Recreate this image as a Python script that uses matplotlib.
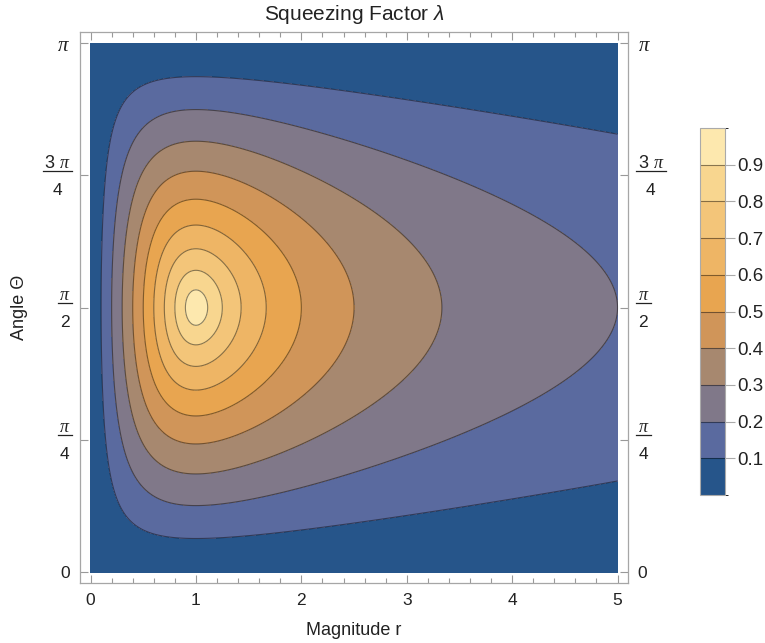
import numpy as np
import matplotlib
matplotlib.use("Agg")
import matplotlib.pyplot as plt
from matplotlib.colors import ListedColormap, BoundaryNorm
from matplotlib.lines import Line2D

plt.rcParams['font.family'] = ['Liberation Sans', 'DejaVu Sans']
plt.rcParams['mathtext.fontset'] = 'custom'
plt.rcParams['mathtext.rm'] = 'Liberation Sans'
plt.rcParams['mathtext.it'] = 'Liberation Serif:italic'
plt.rcParams['mathtext.sf'] = 'Liberation Sans:italic'

# contour levels and band colours (Mathematica default contour scheme)
levels = [0.0, 0.1, 0.2, 0.3, 0.4, 0.5, 0.6, 0.7, 0.8, 0.9, 1.0]
band_colors = ['#26558a', '#5a6a9f', '#807889', '#a7886f', '#d09559',
               '#e8a550', '#eeb565', '#f3c579', '#f8d68f', '#fde8ae']
line_levels = levels[1:-1]

x_ticks = [0, 1, 2, 3, 4, 5]
y_ticks = [0, np.pi / 4, np.pi / 2, 3 * np.pi / 4, np.pi]
y_labels = ['0', '', '', '', r'$\pi$']
# stacked fraction labels drawn by hand (Mathematica style)
frac_ticks = [np.pi / 4, np.pi / 2, 3 * np.pi / 4]
frac_num = [r'$\pi$', r'$\pi$', r'3 $\pi$']
frac_den = ['4', '2', '4']
cbar_ticks = [0.1, 0.2, 0.3, 0.4, 0.5, 0.6, 0.7, 0.8, 0.9]

# squeezing factor: ratio of singular values of the map with columns (1,0), r(cos t, sin t)
r = np.linspace(0, 5, 601)
theta = np.linspace(0, np.pi, 601)
R, T = np.meshgrid(r, theta)
X = R * np.cos(T)
Y = R * np.sin(T)
p = np.sqrt((1 + Y) ** 2 + X ** 2)
q = np.sqrt((1 - Y) ** 2 + X ** 2)
lam = (p - q) / (p + q)

cmap = ListedColormap(band_colors)
norm = BoundaryNorm(levels, cmap.N)

W, H = 765, 643
fig = plt.figure(figsize=(W / 100, H / 100), dpi=100)
ax = fig.add_axes([0.1046, 0.0933, 0.7164, 0.8567])
cf = ax.contourf(R, T, lam, levels=levels, cmap=cmap, norm=norm)
cs = ax.contour(R, T, lam, levels=line_levels, colors='#000000',
                alpha=0.45, linewidths=0.8)

ax.set_xlim(-0.1, 5.1)
ax.set_ylim(-0.065, np.pi + 0.065)
ax.set_xticks(x_ticks)
ax.set_xticks(np.arange(0, 5.01, 0.2), minor=True)
ax.set_yticks(y_ticks)
ax.set_yticklabels(y_labels)
ax.tick_params(which='both', direction='in', color='#999999', top=True, right=True,
               labelright=True, labelsize=12.5, labelcolor='#222222')
ax.tick_params(which='major', length=6, width=0.8, pad=7)
ax.tick_params(which='minor', length=3.5, width=0.8)
top_tick = ax.yaxis.get_major_ticks()[-1]
top_tick.label1.set_fontsize(15)
top_tick.label2.set_fontsize(15)
for s in ax.spines.values():
    s.set_color('#a6a6a6')
    s.set_linewidth(0.9)

ax.set_title(r'Squeezing Factor $\mathsf{\lambda}$', fontsize=15, pad=9, color='#222222')
ax.set_xlabel('Magnitude r', fontsize=13, color='#222222', va='center')
ax.xaxis.set_label_coords(0.5, -0.087)
ax.set_ylabel('Angle Θ', fontsize=13, color='#222222', va='center')
ax.yaxis.set_label_coords(-0.110, 0.5)

# hand-drawn fraction tick labels on both sides
renderer = fig.canvas.get_renderer()
x_left, x_right = ax.bbox.x0, ax.bbox.x1
for yv, num, den in zip(frac_ticks, frac_num, frac_den):
    ypix = ax.transData.transform((0, yv))[1]
    for side in ('left', 'right'):
        tn = fig.text(0, 0, num, fontsize=13, color='#222222', ha='center', va='baseline')
        td = fig.text(0, 0, den, fontsize=12.5, color='#222222', ha='center', va='baseline')
        wn = tn.get_window_extent(renderer).width
        wd = td.get_window_extent(renderer).width
        bw = max(wn, wd) + 3
        if side == 'left':
            x1 = x_left - 8
            x0 = x1 - bw
        else:
            x0 = x_right + 8
            x1 = x0 + bw
        xc = (x0 + x1) / 2
        tn.set_position((xc / W, (ypix + 7.5) / H))
        td.set_position((xc / W, (ypix - 19.5) / H))
        fig.add_artist(Line2D([x0 / W, x1 / W], [(ypix + 4.5) / H] * 2,
                              transform=fig.transFigure, color='#222222', lw=0.9))

cax = fig.add_axes([0.915, 0.2302, 0.033, 0.5707])
cb = fig.colorbar(cf, cax=cax, ticks=cbar_ticks)
cb.add_lines(cs)
cb.outline.set_edgecolor('#aaaaaa')
cb.outline.set_linewidth(0.8)
cax.tick_params(length=7, width=0.8, color='#aaaaaa', labelsize=13.5, labelcolor='#222222', pad=2)

fig.savefig('out.png', dpi=100)
